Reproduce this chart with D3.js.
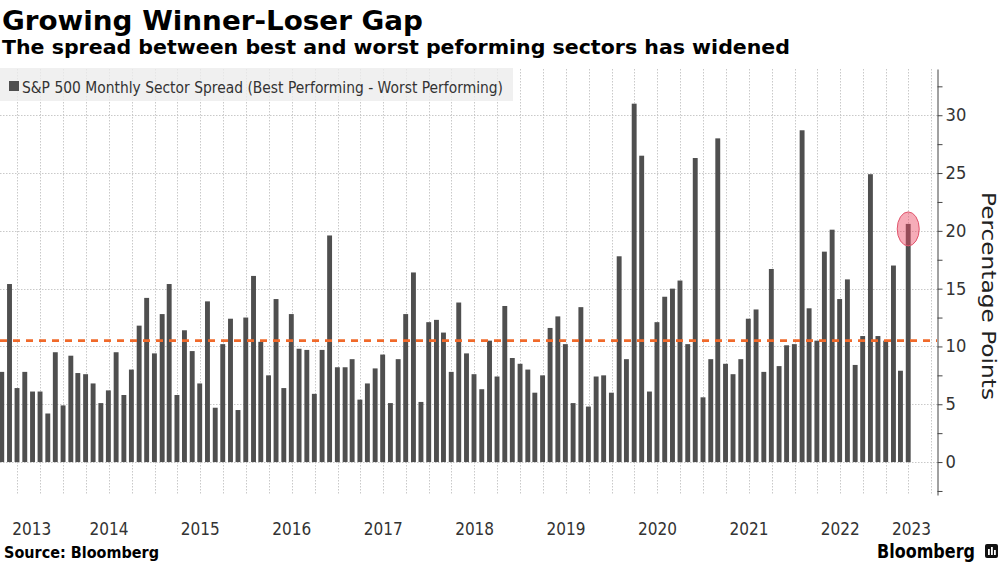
<!DOCTYPE html>
<html><head><meta charset="utf-8">
<script src="https://cdn.jsdelivr.net/npm/d3@7"></script>
<style>body{margin:0;background:#fff}svg{display:block}</style>
</head><body><svg id="c" width="1003" height="564"></svg>
<script>
// ---- data ----
const firstMonth = new Date(2013, 3, 1); // April 2013
const spreadValues = [
  7.8, 15.4, 6.4, 7.8, 6.1, 6.1, 4.2, 9.5, 4.9,
  9.2, 7.7, 7.6, 6.8, 5.1, 6.2, 9.5, 5.8, 8.0, 11.8, 14.2, 9.4,
  12.8, 15.4, 5.8, 11.4, 9.6, 6.8, 13.9, 4.7, 10.2, 12.4, 4.5, 12.5,
  16.1, 10.4, 7.5, 14.1, 6.4, 12.8, 9.8, 9.7, 5.9, 9.7, 19.6, 8.2,
  8.2, 8.9, 5.4, 6.8, 8.1, 9.3, 5.1, 8.9, 12.8, 16.4, 5.2, 12.1,
  12.3, 11.2, 7.8, 13.8, 9.4, 7.6, 6.3, 10.5, 7.4, 13.5, 9.0, 8.5,
  8.0, 6.0, 7.5, 11.6, 12.6, 10.2, 5.1, 13.4, 4.8, 7.4, 7.5, 6.0,
  17.8, 8.9, 31.0, 26.5, 6.1, 12.1, 14.3, 15.0, 15.7, 10.2, 26.3, 5.6,
  8.9, 28.0, 8.5, 7.6, 8.9, 12.4, 13.2, 7.8, 16.7, 8.3, 10.1, 10.2,
  28.7, 13.3, 10.5, 18.2, 20.1, 14.1, 15.8, 8.4, 10.9, 24.9, 10.9, 10.5,
  17.0, 7.9, 20.6
];
const averageSpread = 10.5;
const yTickValues = [0, 5, 10, 15, 20, 25, 30];
const yMinorTicks = [-2.5, 2.5, 7.5, 12.5, 17.5, 22.5, 27.5, 32.5];
const yearLabels = ["2013","2014","2015","2016","2017","2018","2019","2020","2021","2022","2023"];
const titleText = "Growing Winner-Loser Gap";
const subtitleText = "The spread between best and worst peforming sectors has widened";
const legendText = "S&P 500 Monthly Sector Spread (Best Performing - Worst Performing)";
const yAxisTitle = "Percentage Points";
const sourceText = "Source: Bloomberg";
const brandText = "Bloomberg";

// ---- layout ----
const svg = d3.select("#c");
const plot = {left: 0, right: 937, top: 69, bottom: 495};
const FONT = "'DejaVu Sans', Verdana, sans-serif";
const barColor = "#4f4f4f";

const data = spreadValues.map((v, i) => {
  const m = d3.timeMonth.offset(firstMonth, i);
  return {date: new Date(m.getFullYear(), m.getMonth() + 1, 0), value: v};
});

const x = d3.scaleTime()
  .domain([new Date(2013, 3, 23), new Date(2023, 6, 24)])
  .range([plot.left, plot.right]);
const y = d3.scaleLinear().domain([-2.85, 34]).range([plot.bottom, plot.top]);

function fit(sel, w) {
  sel.attr("textLength", w).attr("lengthAdjust", "spacingAndGlyphs");
  return sel;
}

// clip
svg.append("defs").append("clipPath").attr("id", "clip")
  .append("rect").attr("x", plot.left).attr("y", plot.top)
  .attr("width", plot.right - plot.left).attr("height", plot.bottom - plot.top);

// gridlines
const grid = svg.append("g").attr("clip-path", "url(#clip)");
grid.selectAll("line.h").data(yTickValues).join("line")
  .attr("x1", plot.left).attr("x2", plot.right)
  .attr("y1", d => Math.round(y(d)) + 0.5).attr("y2", d => Math.round(y(d)) + 0.5)
  .attr("stroke", "#c9c9c9").attr("stroke-dasharray", "1.5,1.5");
grid.selectAll("line.v").data(x.ticks(d3.timeMonth.every(3))).join("line")
  .attr("x1", d => Math.round(x(d)) + 0.5).attr("x2", d => Math.round(x(d)) + 0.5)
  .attr("y1", plot.top).attr("y2", plot.bottom)
  .attr("stroke", "#c9c9c9").attr("stroke-dasharray", "1.5,1.5");

// bars
const barW = 4.9;
svg.append("g").attr("clip-path", "url(#clip)")
  .selectAll("rect").data(data).join("rect")
  .attr("x", d => x(d.date) - barW / 2)
  .attr("width", barW)
  .attr("y", d => y(d.value))
  .attr("height", d => y(0) - y(d.value))
  .attr("fill", barColor);

// average line
svg.append("line")
  .attr("x1", plot.left).attr("x2", plot.right)
  .attr("y1", y(averageSpread)).attr("y2", y(averageSpread))
  .attr("stroke", "#f0692a").attr("stroke-width", 2.6)
  .attr("stroke-dasharray", "7,6");

// highlight ellipse on last bar
const last = data[data.length - 1];
svg.append("ellipse")
  .attr("cx", x(last.date)).attr("cy", y(last.value) + 5)
  .attr("rx", 11).attr("ry", 17)
  .attr("fill", "rgba(236,70,98,0.45)")
  .attr("stroke", "#e0546c").attr("stroke-width", 1);

// legend
svg.append("rect").attr("x", 0).attr("y", 68).attr("width", 513).attr("height", 33)
  .attr("fill", "rgba(236,236,236,0.8)");
svg.append("rect").attr("x", 9).attr("y", 81).attr("width", 10).attr("height", 10)
  .attr("fill", barColor);
fit(svg.append("text").attr("x", 22).attr("y", 92.5)
  .attr("font-family", FONT).attr("font-size", 15).attr("fill", "#333")
  .text(legendText), 481);

// right axis
const axis = d3.axisRight(y)
  .tickValues(yTickValues.concat(yMinorTicks).sort((a, b) => a - b))
  .tickSize(5).tickSizeOuter(0).tickPadding(3)
  .tickFormat(d => yTickValues.includes(d) ? d3.format("d")(d) : "");
const ga = svg.append("g").attr("transform", `translate(${plot.right + 0.5},0)`).call(axis);
ga.select(".domain").attr("stroke", "#444");
ga.selectAll(".tick line").attr("stroke", "#444");
ga.selectAll(".tick text")
  .attr("font-family", FONT).attr("font-size", 17).attr("fill", "#333")
  .each(function(d) {
    if (yTickValues.includes(d)) fit(d3.select(this), String(d).length * 10.4);
  });

// y title
fit(svg.append("text")
  .attr("transform", `translate(982, ${296 - 104}) rotate(90)`)
  .attr("font-family", FONT).attr("font-size", 20).attr("fill", "#222")
  .text(yAxisTitle), 208);

// year labels
svg.append("g").selectAll("text").data(yearLabels).join("text")
  .attr("x", d => {
    const a = Math.max(x(new Date(+d, 0, 1)), plot.left);
    const b = Math.min(x(new Date(+d + 1, 0, 1)), plot.right);
    return (a + b) / 2;
  })
  .attr("y", 535)
  .attr("text-anchor", "middle")
  .attr("font-family", FONT).attr("font-size", 18).attr("fill", "#333")
  .text(d => d)
  .each(function() { fit(d3.select(this), 39); });

// titles
fit(svg.append("text").attr("x", 2).attr("y", 30)
  .attr("font-family", FONT).attr("font-weight", "bold").attr("font-size", 27).attr("fill", "#000")
  .text(titleText), 421);
fit(svg.append("text").attr("x", 2).attr("y", 54)
  .attr("font-family", FONT).attr("font-weight", "bold").attr("font-size", 20).attr("fill", "#000")
  .text(subtitleText), 788);

// source & brand
fit(svg.append("text").attr("x", 4).attr("y", 558)
  .attr("font-family", FONT).attr("font-weight", "bold").attr("font-size", 15).attr("fill", "#000")
  .text(sourceText), 155);
fit(svg.append("text").attr("x", 877).attr("y", 558)
  .attr("font-family", FONT).attr("font-weight", "bold").attr("font-size", 19).attr("fill", "#000")
  .text(brandText), 98);
const logo = svg.append("g").attr("transform", "translate(985,544)");
logo.append("rect").attr("width", 13).attr("height", 14).attr("rx", 2).attr("fill", "#111");
logo.selectAll("rect.b").data([[3, 5, 6], [6, 3, 8], [9, 6, 5]]).join("rect")
  .attr("x", d => d[0]).attr("y", d => d[1]).attr("width", 1.8).attr("height", d => d[2])
  .attr("fill", "#fff");
</script></body></html>
